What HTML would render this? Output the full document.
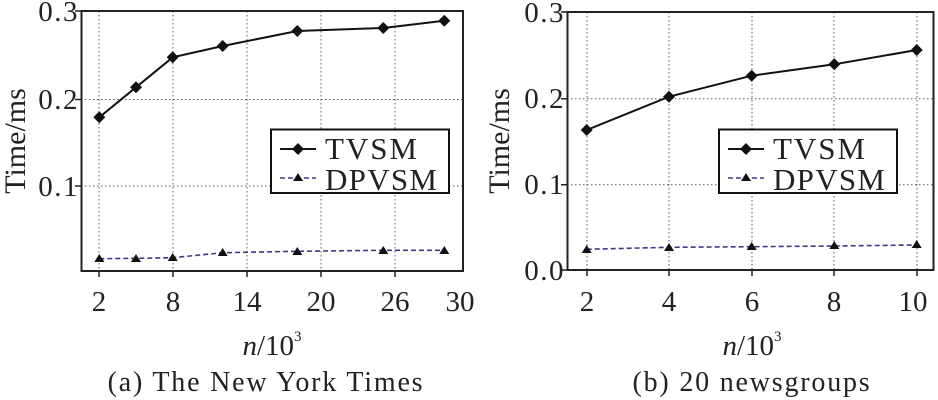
<!DOCTYPE html>
<html><head><meta charset="utf-8"><style>body{margin:0;background:#fff}svg{display:block}text{font-family:"Liberation Serif",serif;fill:#222}</style></head><body>
<svg width="938" height="400" viewBox="0 0 938 400">
<g stroke="#555" stroke-width="1" stroke-dasharray="1.5,2.5" fill="none">
<path d="M99,11V271M173,11V271M247,11V271M321,11V271M395,11V271M81,11H463M81,99.5H463M81,186H463"/>
<path d="M587,12V270M669,12V270M752,12V270M834,12V270M917,12V270M567,12H934M567,98.7H934M567,184.7H934"/>
</g>
<rect x="81.5" y="11" width="381.5" height="260" fill="none" stroke="#222" stroke-width="2"/>
<rect x="567.5" y="12" width="366" height="258" fill="none" stroke="#222" stroke-width="2"/>
<g stroke="#222" stroke-width="1.5"><path d="M81,11h-6M81,99.5h-6M81,186h-6M99,271v6M173,271v6M247,271v6M321,271v6M395,271v6"/>
<path d="M567,12h-6M567,98.7h-6M567,184.7h-6M567,270h-6M587,270v6M669,270v6M752,270v6M834,270v6M917,270v6"/></g>
<polyline points="99.3,117.3 136,87.3 172.7,57.3 222.7,46 297.3,31 383.3,28 444.3,20.7" fill="none" stroke="#111" stroke-width="2"/>
<polyline points="99.3,258.7 136,258.3 172.7,257.7 222.7,252.7 297.3,251.3 383.3,250.3 444.3,250.3" fill="none" stroke="#3a3a8a" stroke-width="1.6" stroke-dasharray="5,3"/>
<polyline points="586.7,130 669,96.7 751.7,75.7 834.3,64.3 916.7,50" fill="none" stroke="#111" stroke-width="2"/>
<polyline points="586.7,249.3 669,247.3 751.7,246.7 834.3,246 916.7,245" fill="none" stroke="#3a3a8a" stroke-width="1.6" stroke-dasharray="5,3"/>
<g fill="#111">
<path d="M99.3,111.3l6,6l-6,6l-6,-6zM136,81.3l6,6l-6,6l-6,-6zM172.7,51.3l6,6l-6,6l-6,-6zM222.7,40l6,6l-6,6l-6,-6zM297.3,25l6,6l-6,6l-6,-6zM383.3,22l6,6l-6,6l-6,-6zM444.3,14.7l6,6l-6,6l-6,-6z"/>
<path d="M586.7,124l6,6l-6,6l-6,-6zM669,90.7l6,6l-6,6l-6,-6zM751.7,69.7l6,6l-6,6l-6,-6zM834.3,58.3l6,6l-6,6l-6,-6zM916.7,44l6,6l-6,6l-6,-6z"/>
<path d="M99.3,254l5,8h-10zM136,254l5,8h-10zM172.7,253l5,8h-10zM222.7,248l5,8h-10zM297.3,247l5,8h-10zM383.3,246l5,8h-10zM444.3,246l5,8h-10z"/>
<path d="M586.7,245l5,8h-10zM669,243l5,8h-10zM751.7,242l5,8h-10zM834.3,241l5,8h-10zM916.7,240l5,8h-10z"/>
</g>
<rect x="271" y="129.5" width="178" height="63.5" fill="#fff" stroke="#111" stroke-width="2"/>
<path d="M280,149H316" stroke="#111" stroke-width="2"/><path d="M298,143l6,6l-6,6l-6,-6z" fill="#111"/>
<path d="M280,178H316" stroke="#3a3a8a" stroke-width="1.6" stroke-dasharray="5,3"/><path d="M298,173l5,8h-10z" fill="#111"/>
<text x="325" y="159" font-size="31" textLength="92">TVSM</text><text x="325" y="190" font-size="31" textLength="112">DPVSM</text>
<rect x="719" y="129.5" width="178" height="63.5" fill="#fff" stroke="#111" stroke-width="2"/>
<path d="M728,149H764" stroke="#111" stroke-width="2"/><path d="M746,143l6,6l-6,6l-6,-6z" fill="#111"/>
<path d="M728,178H764" stroke="#3a3a8a" stroke-width="1.6" stroke-dasharray="5,3"/><path d="M746,173l5,8h-10z" fill="#111"/>
<text x="773" y="159" font-size="31" textLength="92">TVSM</text><text x="773" y="190" font-size="31" textLength="112">DPVSM</text>
<g font-size="29" text-anchor="end" letter-spacing="1.5">
<text x="79" y="21">0.3</text><text x="79" y="109">0.2</text><text x="79" y="196">0.1</text>
<text x="565" y="22">0.3</text><text x="565" y="108">0.2</text><text x="565" y="194">0.1</text><text x="565" y="280">0.0</text>
</g>
<g font-size="29" text-anchor="middle">
<text x="99" y="311">2</text><text x="173" y="311">8</text><text x="247" y="311">14</text><text x="321" y="311">20</text><text x="395" y="311">26</text><text x="460" y="311">30</text>
<text x="587" y="311">2</text><text x="669" y="311">4</text><text x="752" y="311">6</text><text x="834" y="311">8</text><text x="913" y="311">10</text>
<text x="272" y="355"><tspan font-style="italic">n</tspan>/10<tspan font-size="15" dy="-14">3</tspan></text>
<text x="752" y="355"><tspan font-style="italic">n</tspan>/10<tspan font-size="15" dy="-14">3</tspan></text>
<text x="266" y="391" font-size="28" letter-spacing="1.8">(a) The New York Times</text>
<text x="752" y="391" font-size="28" letter-spacing="1.8">(b) 20 newsgroups</text>
<text transform="translate(25,141) rotate(-90)" font-size="30">Time/ms</text>
<text transform="translate(509,141) rotate(-90)" font-size="30">Time/ms</text>
</g>
</svg>
</body></html>
